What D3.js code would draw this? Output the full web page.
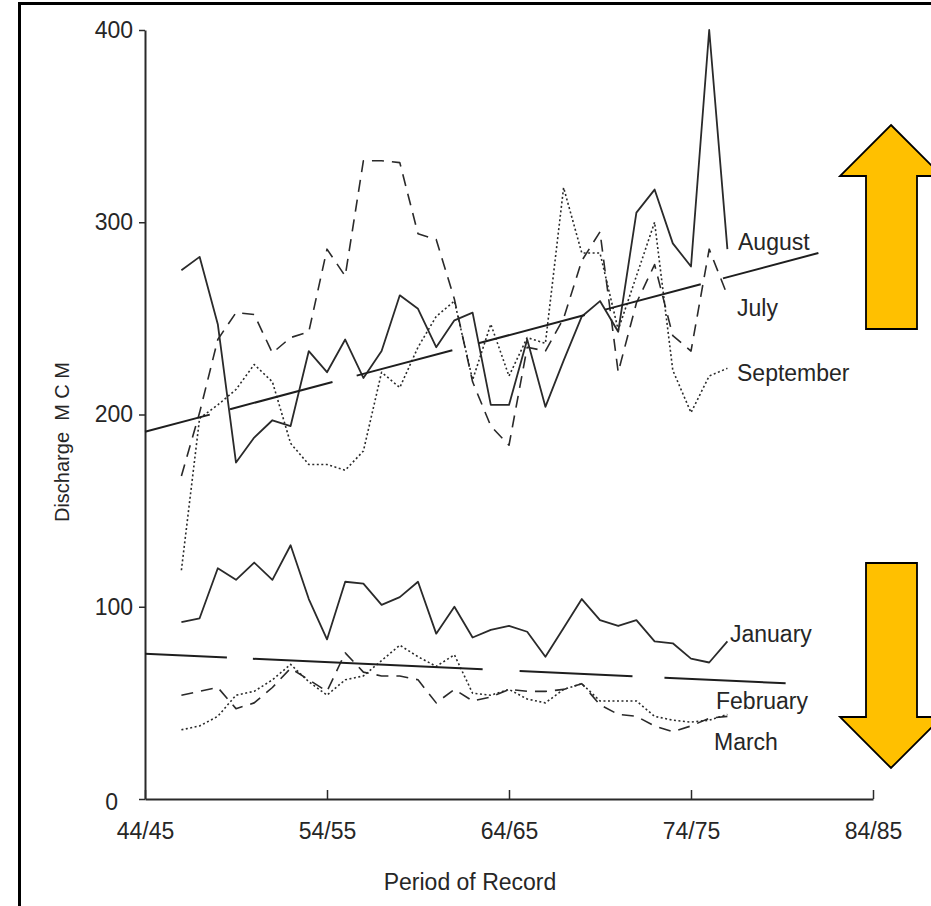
<!DOCTYPE html>
<html>
<head>
<meta charset="utf-8">
<script src="https://cdn.jsdelivr.net/npm/d3@7"></script>
<style>
  html, body { margin: 0; padding: 0; background: #fff; }
  svg { display: block; }
  text { font-family: "Liberation Sans", Arial, Helvetica, sans-serif; fill: #262626; }
</style>
</head>
<body>
<svg id="chart" width="931" height="906"></svg>
<script>
// Water years (start year of each 12-month season)
const years = [1946, 1947, 1948, 1949, 1950, 1951, 1952, 1953, 1954, 1955,
               1956, 1957, 1958, 1959, 1960, 1961, 1962, 1963, 1964, 1965,
               1966, 1967, 1968, 1969, 1970, 1971, 1972, 1973, 1974, 1975, 1976];

// Monthly discharge, million cubic metres
const august    = [275, 282, 247, 175, 188, 197, 194, 233, 222, 239,
                   219, 233, 262, 255, 235, 249, 253, 205, 205, 239,
                   204, 228, 251, 259, 243, 305, 317, 289, 277, 400, 286];
const july      = [168, 201, 239, 253, 252, 232, 240, 243, 286, 272,
                   332, 332, 331, 294, 291, 260, 217, 194, 184, 235,
                   233, 250, 280, 295, 222, 258, 278, 241, 233, 286, 262];
const september = [119, 198, 205, 213, 226, 217, 185, 174, 174, 171,
                   181, 222, 214, 235, 251, 259, 218, 247, 220, 240,
                   237, 318, 284, 284, 244, 272, 300, 223, 201, 220, 224];
const january   = [92, 94, 120, 114, 123, 114, 132, 104, 83, 113,
                   112, 101, 105, 113, 86, 100, 84, 88, 90, 87,
                   74, 89, 104, 93, 90, 93, 82, 81, 73, 71, 82];
const february  = [54, 56, 58, 47, 50, 58, 68, 62, 56, 76,
                   66, 64, 64, 62, 50, 57, 51, 53, 57, 56,
                   56, 57, 60, 49, 44, 43, 38, 35, 38, 42, 43];
const march     = [36, 38, 43, 54, 56, 62, 70, 61, 54, 62,
                   64, 72, 80, 74, 69, 75, 55, 54, 57, 52,
                   50, 57, 60, 51, 51, 51, 43, 41, 40, 41, 44];

// Fitted linear trends: [start year, value], [end year, value]
const summerTrend = [[1944, 191], [1981, 284]];
const winterTrend = [[1944, 75.5], [1979.2, 60.2]];

// Axis ticks
const yTicks = [0, 100, 200, 300, 400];
const xTicks = [1944, 1954, 1964, 1974, 1984];
const xTickLabels = ["44/45", "54/55", "64/65", "74/75", "84/85"];

const svg = d3.select("#chart");

// page frame
svg.append("rect")
  .attr("x", 19.5).attr("y", 3.5)
  .attr("width", 1000).attr("height", 1000)
  .attr("fill", "none").attr("stroke", "#000").attr("stroke-width", 3);

const x = d3.scaleLinear().domain([1944, 1984]).range([145, 873]);
const y = d3.scaleLinear().domain([0, 400]).range([799, 30]);

const ink = "#2a2a2a";

// y axis
const yAxis = svg.append("g")
  .attr("transform", `translate(${x(1944)},0)`)
  .call(d3.axisLeft(y).tickValues(yTicks).tickSizeInner(6).tickSizeOuter(0).tickPadding(6));
yAxis.select(".domain").attr("stroke", ink).attr("stroke-width", 2);
yAxis.selectAll(".tick line").attr("stroke", ink).attr("stroke-width", 1.5);
yAxis.selectAll(".tick text").attr("font-size", 23).attr("fill", "#262626")
  .style("font-family", "'Liberation Sans', Arial, sans-serif")
  .attr("dx", d => d === 0 ? -15 : 0)
  .attr("dy", d => d === 0 ? "0.45em" : "0.32em");

// x axis
const xAxis = svg.append("g")
  .attr("transform", `translate(0,${y(0)})`)
  .call(d3.axisBottom(x).tickValues(xTicks)
    .tickFormat((d, i) => xTickLabels[i])
    .tickSizeInner(-9).tickSizeOuter(0).tickPadding(24));
xAxis.select(".domain").attr("stroke", ink).attr("stroke-width", 2);
xAxis.selectAll(".tick line").attr("stroke", ink).attr("stroke-width", 1.5);
xAxis.selectAll(".tick text").attr("font-size", 23).attr("fill", "#262626")
  .style("font-family", "'Liberation Sans', Arial, sans-serif");

// axis titles
svg.append("text")
  .attr("x", 470).attr("y", 890)
  .attr("text-anchor", "middle")
  .attr("font-size", 23)
  .text("Period of Record");

svg.append("text")
  .attr("transform", "translate(69,442) rotate(-90)")
  .attr("text-anchor", "middle")
  .attr("font-size", 20)
  .attr("xml:space", "preserve")
  .style("white-space", "pre")
  .text("Discharge  M C M");

// series
const line = d3.line()
  .x((d, i) => x(years[i]))
  .y(d => y(d));

const series = [
  { name: "August",    values: august,    dash: null,    width: 1.8 },
  { name: "July",      values: july,      dash: "12,8",  width: 1.6 },
  { name: "September", values: september, dash: "2,2.5", width: 1.6 },
  { name: "January",   values: january,   dash: null,    width: 1.8 },
  { name: "February",  values: february,  dash: "12,8",  width: 1.6 },
  { name: "March",     values: march,     dash: "2,2.5", width: 1.6 }
];

svg.append("g").selectAll("path")
  .data(series)
  .join("path")
  .attr("d", d => line(d.values))
  .attr("fill", "none")
  .attr("stroke", ink)
  .attr("stroke-width", d => d.width)
  .attr("stroke-linejoin", "round")
  .attr("stroke-dasharray", d => d.dash);

// trend lines, drafted as long broken strokes
const trendLine = d3.line().x(d => x(d[0])).y(d => y(d[1]));
svg.append("path")
  .attr("d", trendLine(summerTrend))
  .attr("fill", "none").attr("stroke", "#1e1e1e").attr("stroke-width", 2)
  .attr("stroke-dasharray", "67,21,106,25,99,27,110,21,99,23,120");
svg.append("path")
  .attr("d", trendLine(winterTrend))
  .attr("fill", "none").attr("stroke", "#1e1e1e").attr("stroke-width", 2)
  .attr("stroke-dasharray", "82,26,230,37,113,32,130");

// series labels
const labels = [
  { text: "August",    x: 738, y: 250 },
  { text: "July",      x: 737, y: 316 },
  { text: "September", x: 737, y: 381 },
  { text: "January",   x: 730, y: 642 },
  { text: "February",  x: 716, y: 709 },
  { text: "March",     x: 714, y: 750 }
];
svg.append("g").selectAll("text")
  .data(labels)
  .join("text")
  .attr("x", d => d.x).attr("y", d => d.y)
  .attr("font-size", 23)
  .text(d => d.text);

// trend direction arrows
const arrowFill = "#FFC000";
const up = [[891,125],[942,176],[917,176],[917,329],[866,329],[866,176],[840,176]];
const down = [[866,563],[917,563],[917,717],[942,717],[891,768],[840,717],[866,717]];
[up, down].forEach(pts => {
  svg.append("polygon")
    .attr("points", pts.map(p => p.join(",")).join(" "))
    .attr("fill", arrowFill)
    .attr("stroke", "#000")
    .attr("stroke-width", 1.8)
    .attr("stroke-linejoin", "miter");
});
</script>
</body>
</html>
